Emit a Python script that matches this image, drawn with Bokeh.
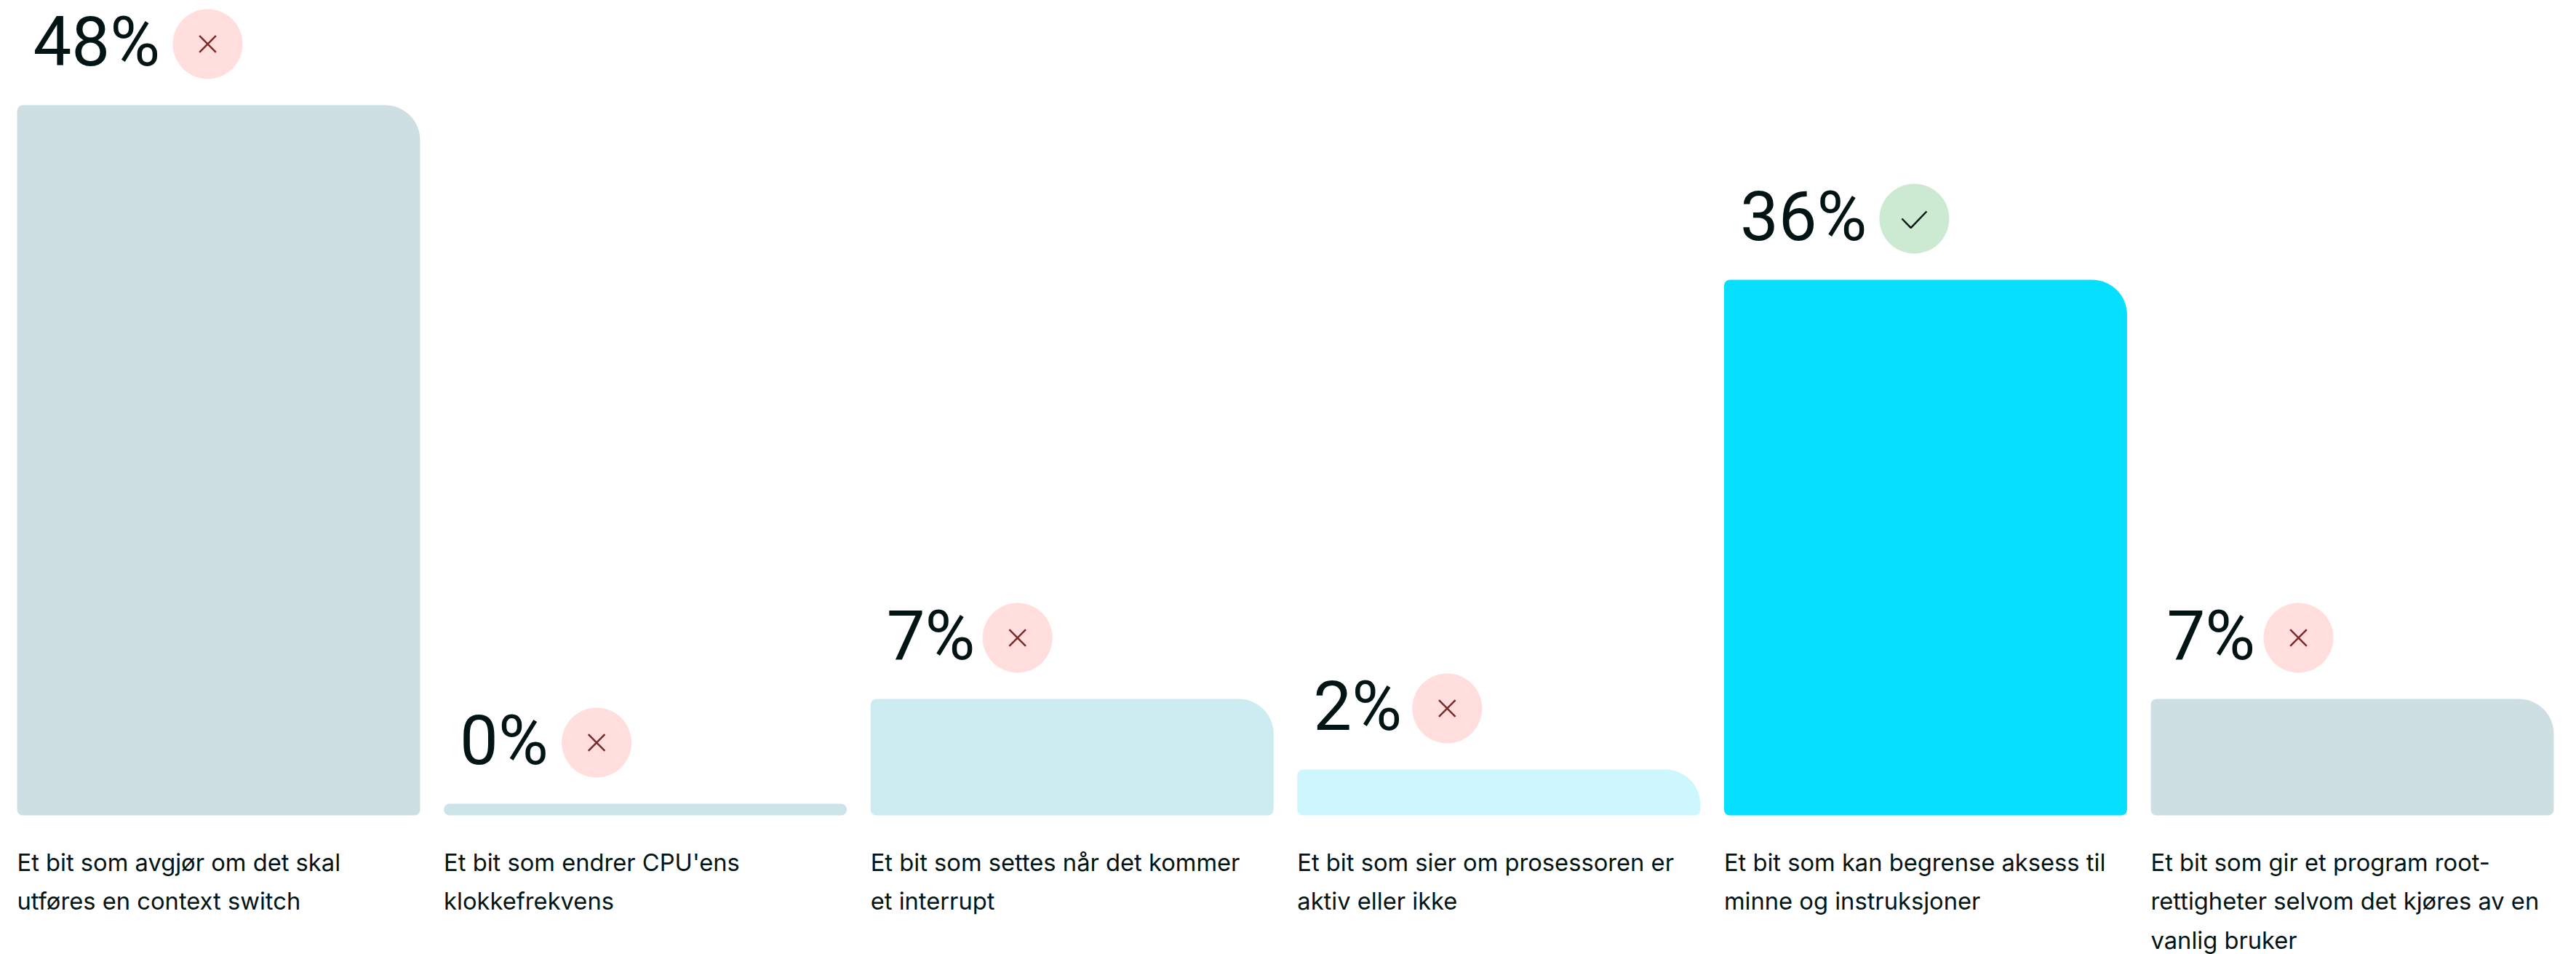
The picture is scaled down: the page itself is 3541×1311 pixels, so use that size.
from bokeh.plotting import figure
from bokeh.embed import file_html
from bokeh.resources import INLINE
from bokeh.models import Range1d
from bokeh.core.properties import value

# data
pct_labels = ["48%", "0%", "7%", "2%", "36%", "7%"]
bar_values = [48, 0, 7.2, 2.35, 36, 7.2]
correct = [False, False, False, False, True, False]
answers = [
    ["Et bit som avgjør om det skal", "utføres en context switch"],
    ["Et bit som endrer CPU'ens", "klokkefrekvens"],
    ["Et bit som settes når det kommer", "et interrupt"],
    ["Et bit som sier om prosessoren er", "aktiv eller ikke"],
    ["Et bit som kan begrense aksess til", "minne og instruksjoner"],
    ["Et bit som gir et program root-", "rettigheter selvom det kjøres av en", "vanlig bruker"],
]
colors = ["#cddfe3", "#cce4e8", "#cdecf1", "#cef7fd", "#07dfff", "#cddfe3"]

# layout (1 x unit = 1 px, 20 px per y unit)
W, H = 3541, 1311
PAD = 0
BASE_PX = 1120
PX = 20.0
FLOOR = -0.8
bar_w = 554
pitch = 586.6
left0 = 23
icon_dx = [262, 210, 202, 206, 261.5, 203]
INK = "#031414"

def y_of(px):
    return FLOOR + (BASE_PX - px) / PX

p = figure(width=W, height=H, output_backend="svg", toolbar_location=None,
           x_range=Range1d(PAD, PAD + W), y_range=Range1d(y_of(PAD + H), y_of(PAD)),
           min_border=0, outline_line_color=None, background_fill_color="white")
p.axis.visible = False
p.grid.visible = False

lefts = [left0 + i * pitch for i in range(6)]
centers = [l + bar_w / 2 for l in lefts]

for i, v in enumerate(bar_values):
    radius = 8 if v == 0 else (8, 48, 8, 8)
    p.vbar(x=centers[i], width=bar_w, bottom=FLOOR, top=v, fill_color=colors[i],
           line_color=None, border_radius=radius)

NUM = 94
num_x = [l + 22 for l in lefts]
num_y = [v + 87 / PX for v in bar_values]
p.text(x=num_x, y=num_y, text=pct_labels, text_font=value("Roboto"), text_font_size=f"{NUM}px",
       text_color=INK, text_baseline="middle", text_align="left")

icon_x = [l + d for l, d in zip(lefts, icon_dx)]
icon_y = [v + 84 / PX for v in bar_values]
p.scatter(x=icon_x, y=icon_y, size=96, marker="circle", line_color=None,
          fill_color=["#cce9d2" if c else "#ffdedd" for c in correct])

xs = [x for x, c in zip(icon_x, correct) if not c]
ys = [y for y, c in zip(icon_y, correct) if not c]
p.scatter(x=xs, y=ys, size=32, marker="x", line_color="#7a2a2a", line_width=2.5, fill_color=None)

cx = [x for x, c in zip(icon_x, correct) if c]
cy = [y for y, c in zip(icon_y, correct) if c]
for x0, y0 in zip(cx, cy):
    p.line(x=[x0 - 17, x0 - 4.7, x0 + 17], y=[y0, y0 - 12.7 / PX, y0 + 10 / PX],
           line_color="#0a1414", line_width=2.5)

LBL = 32.7
tx, ty, tt = [], [], []
for l, lines in zip(lefts, answers):
    for j, s in enumerate(lines):
        tx.append(l)
        ty.append(y_of(1184.5 + j * 53.4))
        tt.append(s)
p.text(x=tx, y=ty, text=tt, text_font=value("Inter"), text_font_size=f"{LBL}px",
       text_color=INK, text_baseline="middle", text_align="left")

open("out.html", "w").write(file_html(p, INLINE))
